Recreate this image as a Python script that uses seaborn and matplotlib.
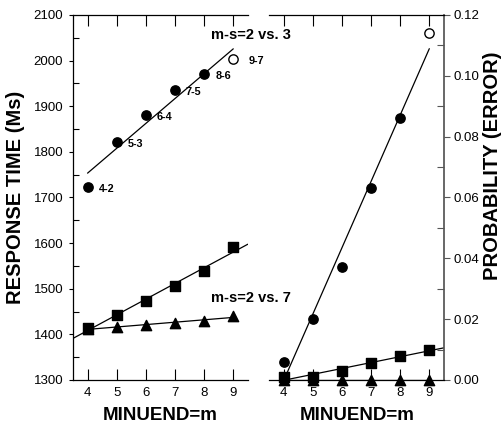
import matplotlib
matplotlib.use("Agg")
import matplotlib.pyplot as plt
import numpy as np
import pandas as pd
import seaborn as sns
from matplotlib.ticker import MultipleLocator, FormatStrFormatter

# values
minuend = [4, 5, 6, 7, 8, 9]
pair_labels = ["4-2", "5-3", "6-4", "7-5", "8-6", "9-7"]
rt_circle = [1723, 1822, 1881, 1936, 1971, 2004]
rt_square = [1415, 1442, 1473, 1506, 1539, 1591]
rt_triangle = [1412, 1417, 1420, 1425, 1430, 1440]
err_circle = [0.006, 0.020, 0.037, 0.063, 0.086, 0.114]
err_square = [0.001, 0.001, 0.003, 0.0057, 0.0079, 0.0099]
err_triangle = [0.0, 0.0, 0.0, 0.0, 0.0, 0.0]

sns.set_theme(style="ticks")
plt.rcParams["font.family"] = ["Liberation Sans", "DejaVu Sans"]
plt.rcParams.update({"text.color": "black", "axes.labelcolor": "black",
                     "xtick.color": "black", "ytick.color": "black",
                     "axes.edgecolor": "black"})

df = pd.DataFrame({
    "m": minuend,
    "rt_circle": rt_circle, "rt_square": rt_square, "rt_triangle": rt_triangle,
    "err_circle": err_circle, "err_square": err_square, "err_triangle": err_triangle,
})

fig = plt.figure(figsize=(5.01, 4.23), dpi=100)
ax_rt = fig.add_axes([0.1457, 0.1017, 0.349, 0.863])
ax_err = fig.add_axes([0.537, 0.1017, 0.349, 0.863])
ax_rt.set_zorder(2)
for ax in (ax_rt, ax_err):
    ax.patch.set_alpha(0)


def fit_line(ax, col, x0, x1):
    slope, icpt = np.polyfit(df["m"], df[col], 1)
    xs = np.array([x0, x1])
    sns.lineplot(x=xs, y=slope * xs + icpt, color="black", lw=0.9, ax=ax,
                 zorder=2)


def points(ax, col, marker, size, rows=slice(None), face="black"):
    sub = df.iloc[rows]
    sns.scatterplot(data=sub, x="m", y=col, marker=marker, s=size,
                    color=face, edgecolor="black", linewidth=1, ax=ax,
                    zorder=3, clip_on=False)


# response time panel
fit_line(ax_rt, "rt_circle", 4, 9)
fit_line(ax_rt, "rt_square", 3.5, 9.5)
fit_line(ax_rt, "rt_triangle", 4, 9)
points(ax_rt, "rt_triangle", "^", 55)
points(ax_rt, "rt_square", "s", 45)
points(ax_rt, "rt_circle", "o", 45, slice(0, 5))
points(ax_rt, "rt_circle", "o", 45, slice(5, 6), face="white")

for m, y, lab in zip(minuend, rt_circle, pair_labels):
    dx = 15 if lab == "9-7" else 11
    ax_rt.annotate(lab, (m, y), xytext=(dx, -2), textcoords="offset pixels",
                   ha="left", va="center", fontsize=7.8, fontweight="bold",
                   annotation_clip=False)

ax_rt.text(8.25, 2056, "m-s=2 vs. 3", fontsize=10.5, fontweight="bold",
           ha="left", va="center", clip_on=False)
ax_rt.text(8.25, 1479, "m-s=2 vs. 7", fontsize=10.5, fontweight="bold",
           ha="left", va="center", clip_on=False)

ax_rt.set_xlim(3.5, 9.5)
ax_rt.set_ylim(1300, 2100)
ax_rt.yaxis.set_major_locator(MultipleLocator(100))
ax_rt.yaxis.set_minor_locator(MultipleLocator(50))
ax_rt.set_xticks(minuend)
ax_rt.spines["right"].set_visible(False)
ax_rt.tick_params(axis="x", which="both", direction="in", length=8, width=0.8,
                  top=True, labeltop=False, labelsize=9.5, pad=5)
ax_rt.tick_params(axis="y", which="major", direction="out", length=3,
                  width=0.8, labelsize=9.5, pad=4)
ax_rt.tick_params(axis="y", which="minor", direction="in", length=4,
                  width=0.8)
ax_rt.set_xlabel("")
ax_rt.set_ylabel("")

# error panel
fit_line(ax_err, "err_circle", 3.5, 9)
fit_line(ax_err, "err_square", 3.5, 9.5)
fit_line(ax_err, "err_triangle", 4, 9)
points(ax_err, "err_triangle", "^", 55)
points(ax_err, "err_square", "s", 45)
points(ax_err, "err_circle", "o", 45, slice(0, 5))
points(ax_err, "err_circle", "o", 45, slice(5, 6), face="white")

ax_err.set_xlim(3.5, 9.5)
ax_err.set_ylim(0, 0.12)
ax_err.yaxis.set_major_locator(MultipleLocator(0.02))
ax_err.yaxis.set_minor_locator(MultipleLocator(0.01))
ax_err.yaxis.set_major_formatter(FormatStrFormatter("%.2f"))
ax_err.set_xticks(minuend)
ax_err.spines["left"].set_visible(False)
ax_err.spines["right"].set_color("#555555")
ax_err.yaxis.tick_right()
ax_err.tick_params(axis="x", which="both", direction="in", length=8, width=0.8,
                   top=True, labeltop=False, labelsize=9.5, pad=5)
ax_err.tick_params(axis="x", which="both", bottom=True, length=0)
ax_err.tick_params(axis="x", which="major", top=True, length=8)
ax_err.tick_params(axis="y", which="major", direction="out", length=4,
                   width=0.8, labelsize=9.5, pad=3, color="#555555")
ax_err.tick_params(axis="y", which="minor", direction="in", length=5,
                   width=0.8, color="#555555")
ax_err.set_xlabel("")
ax_err.set_ylabel("")

for ax in (ax_rt, ax_err):
    for side in ("top", "bottom", "left"):
        ax.spines[side].set_linewidth(0.9)

fig.text(16 / 501, 1 - 197 / 423, "RESPONSE TIME (Ms)", rotation=90,
         ha="center", va="center", fontsize=14.5, fontweight="bold")
fig.text(493 / 501, 1 - 166 / 423, "PROBABILITY (ERROR)", rotation=90,
         ha="center", va="center", fontsize=14.5, fontweight="bold")
fig.text(160.5 / 501, 3 / 423, "MINUEND=m", ha="center", va="baseline",
         fontsize=13.5, fontweight="bold")
fig.text(357 / 501, 3 / 423, "MINUEND=m", ha="center", va="baseline",
         fontsize=13.5, fontweight="bold")

fig.savefig("out.png", dpi=100)
